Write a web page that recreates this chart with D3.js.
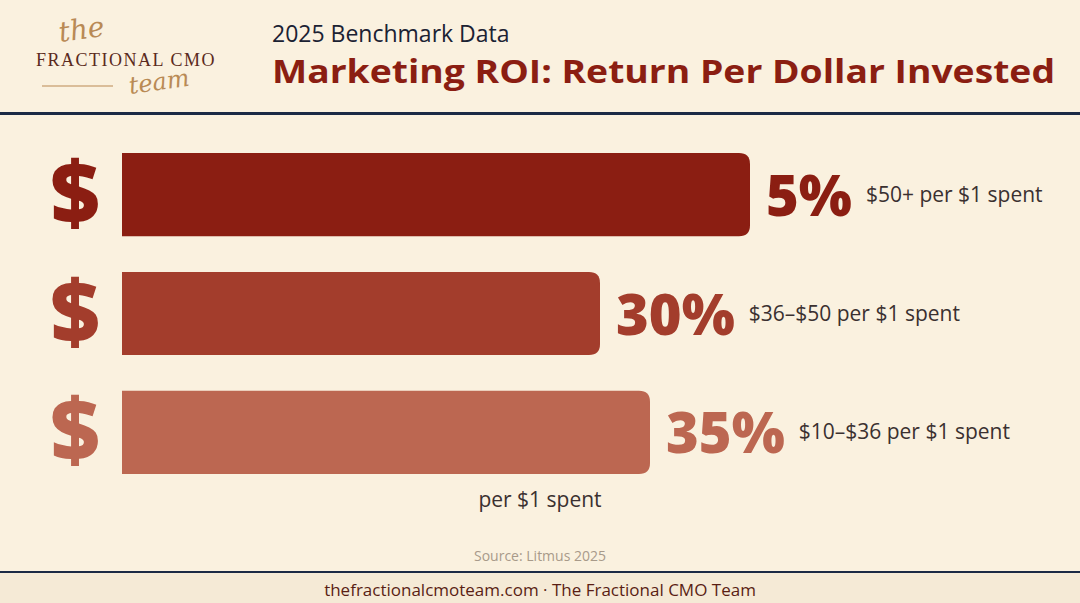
<!DOCTYPE html>
<html><head><meta charset="utf-8">
<script src="https://cdn.jsdelivr.net/npm/d3@7"></script>
<style>body{margin:0;background:#faf1df}</style></head>
<body><script>
const categories = ["$50+ per $1 spent","$36–$50 per $1 spent","$10–$36 per $1 spent"];
const shares = ["5%","30%","35%"];
const barLengths = [62.8, 47.8, 52.8];
const colors = ["#8b1e12","#a33d2c","#bc6751"];
const F="Open Sans";
const W=1080,H=603;
const svg=d3.select("body").append("svg").attr("width",W).attr("height",H);
svg.append("rect").attr("width",W).attr("height",H).attr("fill","#faf1df");
svg.append("text").attr("x",272).attr("y",42).attr("font-family",F).attr("font-size",23).attr("fill","#1b2233").text("2025 Benchmark Data");
const tt=svg.append("text").attr("x",272).attr("y",83).attr("font-family",F).attr("font-weight",700).attr("font-size",33).attr("fill","#8b1e12").text("Marketing ROI: Return Per Dollar Invested");
tt.attr("textLength",783).attr("lengthAdjust","spacingAndGlyphs");
svg.append("rect").attr("x",0).attr("y",112).attr("width",W).attr("height",3).attr("fill","#1b2a45");
svg.append("text").attr("x",60).attr("y",42).attr("font-family","DejaVu Serif").attr("font-style","italic").attr("font-size",28).attr("fill","#b98a55").attr("transform","rotate(-8,60,42)").text("the");
svg.append("text").attr("x",126).attr("y",66).attr("text-anchor","middle").attr("font-family","Liberation Serif").attr("font-size",18).attr("letter-spacing",1.5).attr("fill","#5a2a20").text("FRACTIONAL CMO");
svg.append("line").attr("x1",42).attr("x2",113).attr("y1",86).attr("y2",86).attr("stroke","#b98a55").attr("stroke-width",1.2);
svg.append("text").attr("x",130).attr("y",94).attr("font-family","DejaVu Serif").attr("font-style","italic").attr("font-size",24).attr("fill","#b98a55").attr("transform","rotate(-8,130,94)").text("team");

const x=d3.scaleLinear().domain([0,100]).range([0,1000]);
const y=d3.scaleBand().domain(categories).range([153,474]).paddingInner(0.3);
const x0=122, r=11;
categories.forEach((c,i)=>{
  const y0=y(c), h=y.bandwidth(), w=x(barLengths[i]);
  svg.append("path").attr("fill",colors[i]).attr("d",
    `M${x0},${y0}H${x0+w-r}Q${x0+w},${y0} ${x0+w},${y0+r}V${y0+h-r}Q${x0+w},${y0+h} ${x0+w-r},${y0+h}H${x0}Z`);
  svg.append("text").attr("x",75).attr("y",y0+h/2+29).attr("text-anchor","middle").attr("font-family",F).attr("font-weight",800).attr("font-size",86).attr("fill",colors[i]).text("$");
  const px=x0+w+16;
  const t=svg.append("text").attr("x",px).attr("y",y0+h/2+21).attr("font-family",F).attr("font-weight",800).attr("font-size",56).attr("fill",colors[i]).text(shares[i]);
  const tw=t.node().getComputedTextLength();
  svg.append("text").attr("x",px+tw+14).attr("y",y0+h/2+7).attr("font-family",F).attr("font-size",21).attr("fill","#3a3030").text(c);
});
svg.append("text").attr("x",540).attr("y",507).attr("text-anchor","middle").attr("font-family",F).attr("font-size",21).attr("fill","#3a3030").text("per $1 spent");
svg.append("text").attr("x",540).attr("y",561).attr("text-anchor","middle").attr("font-family",F).attr("font-size",14).attr("fill","#a89a8a").text("Source: Litmus 2025");
svg.append("rect").attr("x",0).attr("y",572).attr("width",W).attr("height",31).attr("fill","#f5ead6");
svg.append("rect").attr("x",0).attr("y",571).attr("width",W).attr("height",2).attr("fill","#1b2a45");
svg.append("text").attr("x",540).attr("y",596).attr("text-anchor","middle").attr("font-family",F).attr("font-size",17).attr("fill","#5a1e14").text("thefractionalcmoteam.com · The Fractional CMO Team");
</script></body></html>
